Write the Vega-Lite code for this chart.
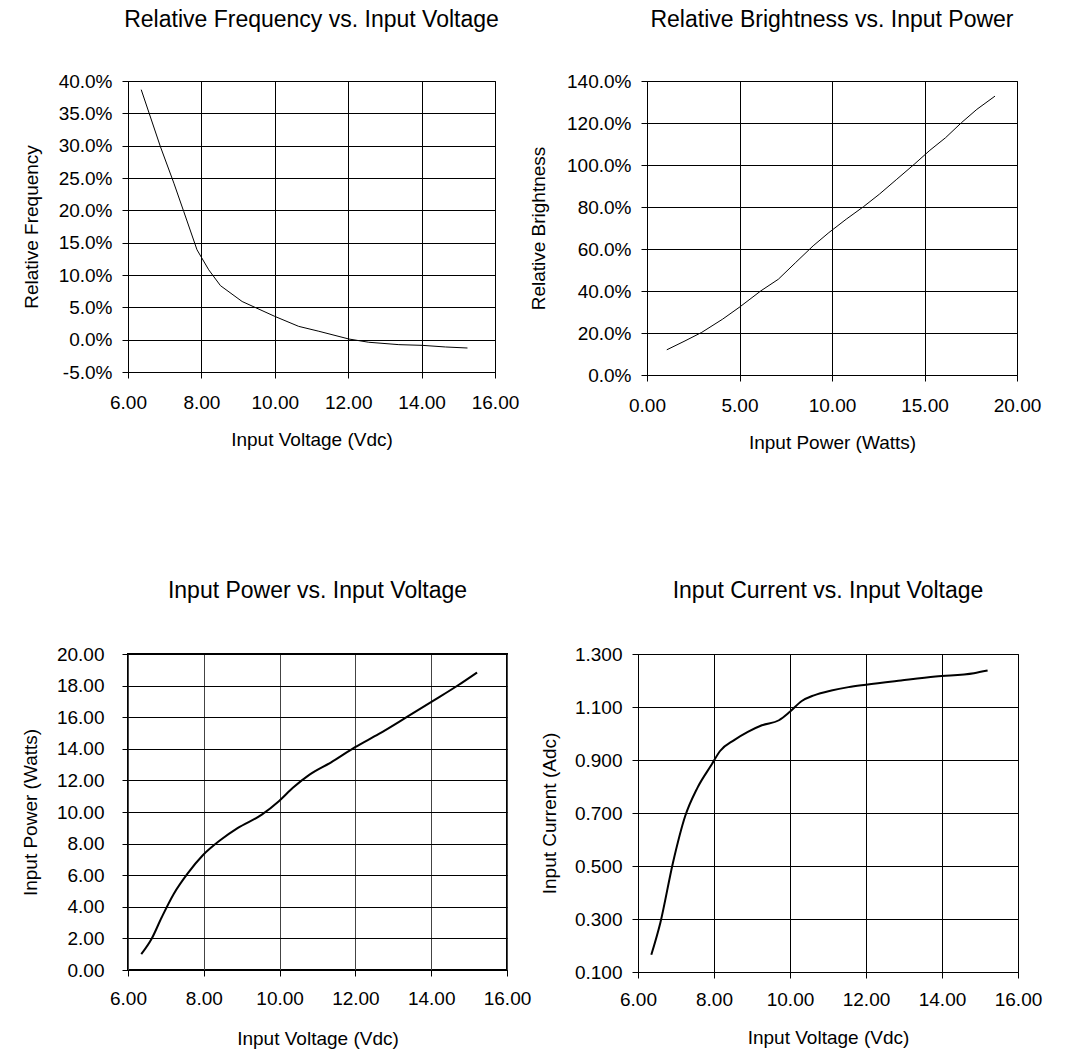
{
  "$schema": "https://vega.github.io/schema/vega-lite/v6.json",
  "background": "white",
  "padding": {"left": 20, "top": 8, "right": 5, "bottom": 0},
  "config": {
    "font": "Liberation Sans",
    "view": {"stroke": "black", "strokeWidth": 1},
    "axis": {
      "domain": false,
      "grid": true,
      "gridColor": "#000000",
      "gridOpacity": 1,
      "gridWidth": 1,
      "tickColor": "#000000",
      "tickSize": 6,
      "tickWidth": 1,
      "labelColor": "#000000",
      "labelFont": "Liberation Sans",
      "labelFontSize": 19,
      "titleColor": "#000000",
      "titleFont": "Liberation Sans",
      "titleFontSize": 19,
      "titleFontWeight": "normal",
      "labelOverlap": false,
      "labelFlush": false
    },
    "title": {"font": "Liberation Sans", "fontSize": 23, "fontWeight": "normal", "color": "#000000", "anchor": "middle", "frame": "group"}
  },
  "datasets": {
    "freq": [
      {"v": 6.36, "f": 0.3866}, {"v": 6.88, "f": 0.299}, {"v": 7.25, "f": 0.242}, {"v": 7.52, "f": 0.198},
      {"v": 7.88, "f": 0.139}, {"v": 8.2, "f": 0.108}, {"v": 8.52, "f": 0.0835}, {"v": 9.11, "f": 0.059},
      {"v": 10.0, "f": 0.036}, {"v": 10.65, "f": 0.0206}, {"v": 11.2, "f": 0.013}, {"v": 12.02, "f": 0.001},
      {"v": 12.56, "f": -0.004}, {"v": 13.38, "f": -0.0077}, {"v": 14.02, "f": -0.0088}, {"v": 14.65, "f": -0.0113},
      {"v": 15.25, "f": -0.0129}
    ],
    "bright": [
      {"p": 1.07, "b": 0.12}, {"p": 2.0, "b": 0.16}, {"p": 2.96, "b": 0.203}, {"p": 4.09, "b": 0.266},
      {"p": 5.03, "b": 0.325}, {"p": 6.16, "b": 0.401}, {"p": 7.1, "b": 0.456}, {"p": 8.04, "b": 0.536},
      {"p": 8.98, "b": 0.615}, {"p": 9.83, "b": 0.678}, {"p": 10.77, "b": 0.742}, {"p": 11.71, "b": 0.802},
      {"p": 12.56, "b": 0.861}, {"p": 13.5, "b": 0.932}, {"p": 14.44, "b": 1.003}, {"p": 15.29, "b": 1.07},
      {"p": 16.14, "b": 1.13}, {"p": 16.99, "b": 1.201}, {"p": 17.83, "b": 1.265}, {"p": 18.81, "b": 1.328}
    ],
    "power": [
      {"v": 6.35, "w": 1.0}, {"v": 6.62, "w": 1.96}, {"v": 6.89, "w": 3.34}, {"v": 7.21, "w": 4.83},
      {"v": 7.57, "w": 6.1}, {"v": 7.98, "w": 7.28}, {"v": 8.44, "w": 8.23}, {"v": 8.89, "w": 8.98},
      {"v": 9.53, "w": 9.83}, {"v": 9.98, "w": 10.68}, {"v": 10.35, "w": 11.53}, {"v": 10.8, "w": 12.38},
      {"v": 11.35, "w": 13.13}, {"v": 11.98, "w": 14.09}, {"v": 12.62, "w": 14.94}, {"v": 13.35, "w": 16.0},
      {"v": 14.07, "w": 17.06}, {"v": 14.71, "w": 18.02}, {"v": 15.21, "w": 18.83}
    ],
    "current": [
      {"v": 6.35, "a": 0.165}, {"v": 6.59, "a": 0.287}, {"v": 6.92, "a": 0.5125}, {"v": 7.24, "a": 0.6875},
      {"v": 7.56, "a": 0.794}, {"v": 7.93, "a": 0.881}, {"v": 8.16, "a": 0.934}, {"v": 8.53, "a": 0.975},
      {"v": 8.89, "a": 1.006}, {"v": 9.26, "a": 1.031}, {"v": 9.71, "a": 1.05}, {"v": 9.99, "a": 1.081},
      {"v": 10.31, "a": 1.1225}, {"v": 10.63, "a": 1.144}, {"v": 11.09, "a": 1.1625}, {"v": 11.54, "a": 1.175},
      {"v": 12.0, "a": 1.184}, {"v": 12.92, "a": 1.2}, {"v": 13.83, "a": 1.215}, {"v": 14.84, "a": 1.2275},
      {"v": 15.2, "a": 1.2375}
    ]
  },
  "vconcat": [
    {
      "spacing": 9,
      "hconcat": [
        {
          "width": 367, "height": 291,
          "title": {"text": "Relative Frequency vs. Input Voltage", "offset": 40},
          "data": {"name": "freq"},
          "mark": {"type": "line", "color": "black", "strokeWidth": 1},
          "encoding": {
            "x": {"field": "v", "type": "quantitative",
              "scale": {"domain": [6, 16], "nice": false, "zero": false},
              "axis": {"values": [6, 8, 10, 12, 14, 16], "format": ".2f", "title": "Input Voltage (Vdc)", "labelPadding": 15, "titlePadding": 18}},
            "y": {"field": "f", "type": "quantitative",
              "scale": {"domain": [-0.05, 0.4], "nice": false, "zero": false},
              "axis": {"values": [-0.05, 0, 0.05, 0.1, 0.15, 0.2, 0.25, 0.3, 0.35, 0.4], "labelExpr": "replace(format(datum.value, '.1%'), '\u2212', '-')", "title": "Relative Frequency", "labelPadding": 10, "titlePadding": 17}}
          }
        },
        {
          "width": 370, "height": 294,
          "title": {"text": "Relative Brightness vs. Input Power", "offset": 40},
          "data": {"name": "bright"},
          "mark": {"type": "line", "color": "black", "strokeWidth": 1},
          "encoding": {
            "x": {"field": "p", "type": "quantitative",
              "scale": {"domain": [0, 20], "nice": false},
              "axis": {"values": [0, 5, 10, 15, 20], "format": ".2f", "title": "Input Power (Watts)", "labelPadding": 15, "titlePadding": 18}},
            "y": {"field": "b", "type": "quantitative",
              "scale": {"domain": [0, 1.4], "nice": false},
              "axis": {"values": [0, 0.2, 0.4, 0.6, 0.8, 1.0, 1.2, 1.4], "format": ".1%", "title": "Relative Brightness", "labelPadding": 10, "titlePadding": 18}}
          }
        }
      ]
    },
    {
      "spacing": 7,
      "hconcat": [
        {
          "width": 379, "height": 316,
          "title": {"text": "Input Power vs. Input Voltage", "offset": 42},
          "view": {"stroke": "black", "strokeWidth": 2},
          "data": {"name": "power"},
          "mark": {"type": "line", "color": "black", "strokeWidth": 2, "interpolate": "monotone"},
          "encoding": {
            "x": {"field": "v", "type": "quantitative",
              "scale": {"domain": [6, 16], "nice": false, "zero": false},
              "axis": {"values": [6, 8, 10, 12, 14, 16], "format": ".2f", "title": "Input Voltage (Vdc)", "labelPadding": 13, "titlePadding": 21, "gridColor": "#444444"}},
            "y": {"field": "w", "type": "quantitative",
              "scale": {"domain": [0, 20], "nice": false},
              "axis": {"values": [0, 2, 4, 6, 8, 10, 12, 14, 16, 18, 20], "format": ".2f", "title": "Input Power (Watts)", "labelPadding": 18, "titlePadding": 16}}
          }
        },
        {
          "width": 380, "height": 318,
          "title": {"text": "Input Current vs. Input Voltage", "offset": 42},
          "data": {"name": "current"},
          "mark": {"type": "line", "color": "black", "strokeWidth": 2, "interpolate": "monotone"},
          "encoding": {
            "x": {"field": "v", "type": "quantitative",
              "scale": {"domain": [6, 16], "nice": false, "zero": false},
              "axis": {"values": [6, 8, 10, 12, 14, 16], "format": ".2f", "title": "Input Voltage (Vdc)", "labelPadding": 12, "titlePadding": 19}},
            "y": {"field": "a", "type": "quantitative",
              "scale": {"domain": [0.1, 1.3], "nice": false, "zero": false},
              "axis": {"values": [0.1, 0.3, 0.5, 0.7, 0.9, 1.1, 1.3], "format": ".3f", "title": "Input Current (Adc)", "labelPadding": 10, "titlePadding": 15}}
          }
        }
      ]
    }
  ],
  "spacing": 126
}
